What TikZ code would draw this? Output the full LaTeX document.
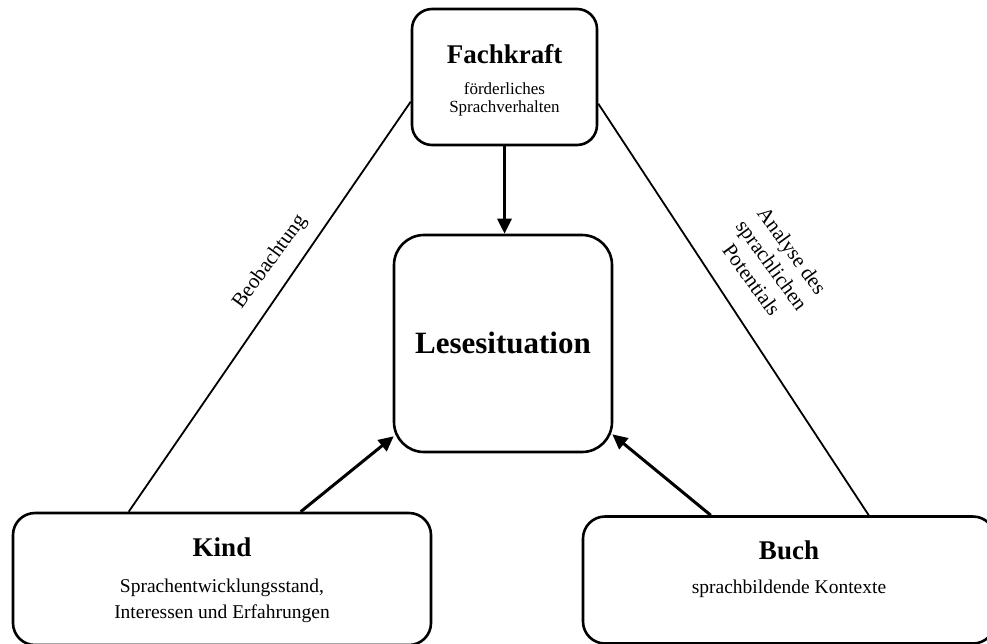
\documentclass[tikz,border=0pt]{standalone}
\usepackage{fontspec}
\setmainfont{Liberation Serif}
\usetikzlibrary{arrows.meta,calc}
\tikzset{
  box/.style={draw=black, line width=2.6pt, fill=white, inner sep=0pt},
  heading/.style={font=\fontsize{27}{32}\selectfont\bfseries, anchor=base, inner sep=0pt},
  sub/.style={font=\fontsize{19.5}{26}\selectfont, anchor=base, inner sep=0pt, align=center},
  subsmall/.style={font=\fontsize{17}{18}\selectfont, anchor=base, inner sep=0pt, align=center},
  edgelabel/.style={font=\fontsize{21}{25}\selectfont, inner sep=0pt, align=center},
  plainline/.style={draw=black, line width=1.8pt},
  arrowline/.style={draw=black, line width=3pt, -{Triangle[length=15pt,width=14pt]}}
}
\begin{document}
\begin{tikzpicture}[x=1pt,y=-1pt]
\useasboundingbox (0,0) rectangle (987,643);
\fill[white] (0,0) rectangle (987,643);
% boxes
\node[box, rounded corners=20pt, minimum width=185pt, minimum height=136pt] (fach) at (504.5,77) {};
\node[box, rounded corners=30pt, minimum width=218pt, minimum height=217pt] (lese) at (503,343.5) {};
\node[box, rounded corners=22pt, minimum width=418pt, minimum height=132pt] (kind) at (222,579) {};
\node[box, rounded corners=22pt, minimum width=412pt, minimum height=127pt] (buch) at (789,580) {};
% texts
\node[heading] (fachT) at (504.5,63) {Fachkraft};
\node[subsmall] (fachS1) at (504.5,94) {förderliches};
\node[subsmall] (fachS2) at (504.5,112) {Sprachverhalten};
\node[font=\fontsize{31}{36}\selectfont\bfseries, anchor=base, inner sep=0pt] (leseT) at (503,353) {Lesesituation};
\node[heading] (kindT) at (222,556) {Kind};
\node[sub] (kindS1) at (222,592) {Sprachentwicklungsstand,};
\node[sub] (kindS2) at (222,618) {Interessen und Erfahrungen};
\node[heading] (buchT) at (789,559) {Buch};
\node[sub] (buchS) at (789,593) {sprachbildende Kontexte};
% connector end points on borders
\coordinate (k1) at ([xshift=117pt]kind.north west);
\coordinate (f1) at ([yshift=-94pt]fach.north west);
\coordinate (b1) at ([xshift=287pt]buch.north west);
\coordinate (f2) at ([yshift=-96pt]fach.north east);
\coordinate (k2) at ([xshift=289pt]kind.north west);
\coordinate (l1) at ([xshift=1pt,yshift=17pt]lese.south west);
\coordinate (b2) at ([xshift=129pt]buch.north west);
\coordinate (l2) at ([xshift=-1pt,yshift=19pt]lese.south east);
% connectors
\draw[plainline] (k1) -- (f1);
\draw[plainline] (b1) -- (f2);
\draw[arrowline] (fach.south) -- (fach.south |- lese.north);
\draw[arrowline] (k2) -- (l1);
\draw[arrowline] (b2) -- (l2);
% edge labels
\node[edgelabel, rotate=54] (beob) at (270,262) {Beobachtung};
\node[edgelabel, rotate=-54] (anal) at (772,265) {Analyse des\\sprachlichen\\Potentials};
\end{tikzpicture}
\end{document}
